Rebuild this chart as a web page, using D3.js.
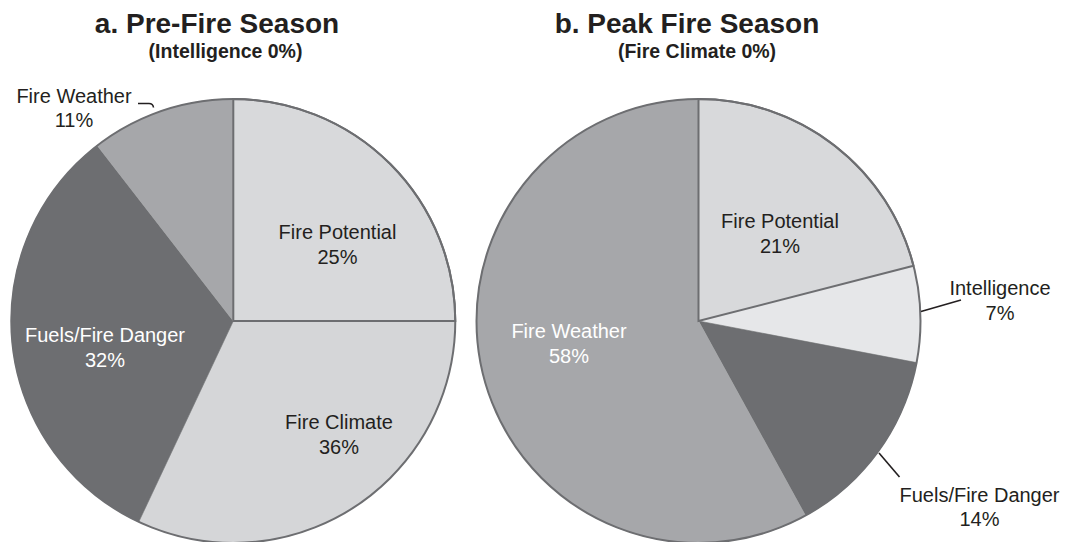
<!DOCTYPE html>
<html>
<head>
<meta charset="utf-8">
<script src="https://cdn.jsdelivr.net/npm/d3@7"></script>
<style>
  html, body { margin: 0; padding: 0; background: #ffffff; }
  svg { display: block; }
  text { font-family: "Liberation Sans", Arial, Helvetica, sans-serif; }
</style>
</head>
<body>
<svg id="chart" width="1066" height="542"></svg>
<script>
// ---- Data ----
const preTitle = "a. Pre-Fire Season";
const preSubtitle = "(Intelligence 0%)";
const preCategories = ["Fire Potential", "Fire Climate", "Fuels/Fire Danger", "Fire Weather"];
const preShares = [25, 32, 32.5, 10.5];     // slice sizes as drawn in the figure
const prePercents = [25, 36, 32, 11];       // percentages printed on the figure

const peakTitle = "b. Peak Fire Season";
const peakSubtitle = "(Fire Climate 0%)";
const peakCategories = ["Fire Potential", "Intelligence", "Fuels/Fire Danger", "Fire Weather"];
const peakShares = [21, 7, 14, 58];
const peakPercents = [21, 7, 14, 58];

// ---- Styles ----
const fillByCategory = {
  "Fire Potential": "#d8d9db",
  "Fire Climate": "#d5d6d8",
  "Fuels/Fire Danger": "#6d6e71",
  "Fire Weather": "#a6a7aa",
  "Intelligence": "#e6e7e9"
};
const strokedCategory = "Fire Potential";
const lineColor = "#6d6e71";
const textDark = "#231f20";
const textOnDark = new Set(["Fuels/Fire Danger", "Fire Weather"]);

const svg = d3.select("#chart");
const radius = 222;

const panels = [
  {
    title: preTitle, subtitle: preSubtitle, cats: preCategories, shares: preShares, pcts: prePercents,
    cx: 233.3, cy: 321, titleX: 217, subX: 225.5,
    labels: {
      "Fire Potential": [337.5, 239],
      "Fire Climate": [339, 429],
      "Fuels/Fire Danger": [105, 342],
      "Fire Weather": [74, 102.7]
    },
    outside: new Set(["Fire Weather"]),
    leaders: ["M138,103.5 L149,103.5 Q153,103.5 153.5,107.5"]
  },
  {
    title: peakTitle, subtitle: peakSubtitle, cats: peakCategories, shares: peakShares, pcts: peakPercents,
    cx: 698.5, cy: 321, titleX: 687, subX: 697,
    labels: {
      "Fire Potential": [780, 228],
      "Intelligence": [1000, 295],
      "Fuels/Fire Danger": [979.5, 501.7],
      "Fire Weather": [569, 338]
    },
    outside: new Set(["Intelligence", "Fuels/Fire Danger"]),
    leaders: ["M921,311.5 L961,300", "M879,453 L899.5,477"]
  }
];

const pie = d3.pie().sort(null).value(d => d.share);
const arc = d3.arc().innerRadius(0).outerRadius(radius);

panels.forEach(p => {
  const rows = p.cats.map((c, i) => ({ cat: c, share: p.shares[i], pct: p.pcts[i] }));
  const arcs = pie(rows);
  const g = svg.append("g").attr("transform", `translate(${p.cx},${p.cy})`);

  // slices (fill only)
  g.selectAll("path.slice").data(arcs).enter().append("path")
    .attr("class", "slice")
    .attr("d", arc)
    .attr("fill", d => fillByCategory[d.data.cat])
    .attr("stroke", d => fillByCategory[d.data.cat])
    .attr("stroke-width", 0.6);

  // outlined slice
  g.selectAll("path.outl").data(arcs.filter(d => d.data.cat === strokedCategory)).enter().append("path")
    .attr("class", "outl")
    .attr("d", arc)
    .attr("fill", "none")
    .attr("stroke", lineColor)
    .attr("stroke-width", 2)
    .attr("stroke-linejoin", "miter");

  // outer circle
  g.append("circle").attr("r", radius)
    .attr("fill", "none").attr("stroke", lineColor).attr("stroke-width", 2);

  // titles
  svg.append("text").attr("x", p.titleX).attr("y", 32.5)
    .attr("text-anchor", "middle").attr("font-size", 28).attr("font-weight", "bold")
    .attr("fill", textDark).text(p.title);
  svg.append("text").attr("x", p.subX).attr("y", 58)
    .attr("text-anchor", "middle").attr("font-size", 19.5).attr("font-weight", "bold")
    .attr("fill", textDark).text(p.subtitle);

  // labels
  rows.forEach(r => {
    const pos = p.labels[r.cat];
    const col = textOnDark.has(r.cat) && !p.outside.has(r.cat) ? "#ffffff" : textDark;
    const t = svg.append("text").attr("text-anchor", "middle").attr("font-size", 20).attr("fill", col);
    t.append("tspan").attr("x", pos[0]).attr("y", pos[1]).text(r.cat);
    t.append("tspan").attr("x", pos[0]).attr("y", pos[1] + 24.5).text(r.pct + "%");
  });

  // leader lines
  p.leaders.forEach(d => {
    svg.append("path").attr("d", d).attr("fill", "none")
      .attr("stroke", textDark).attr("stroke-width", 1.6);
  });
});
</script>
</body>
</html>
